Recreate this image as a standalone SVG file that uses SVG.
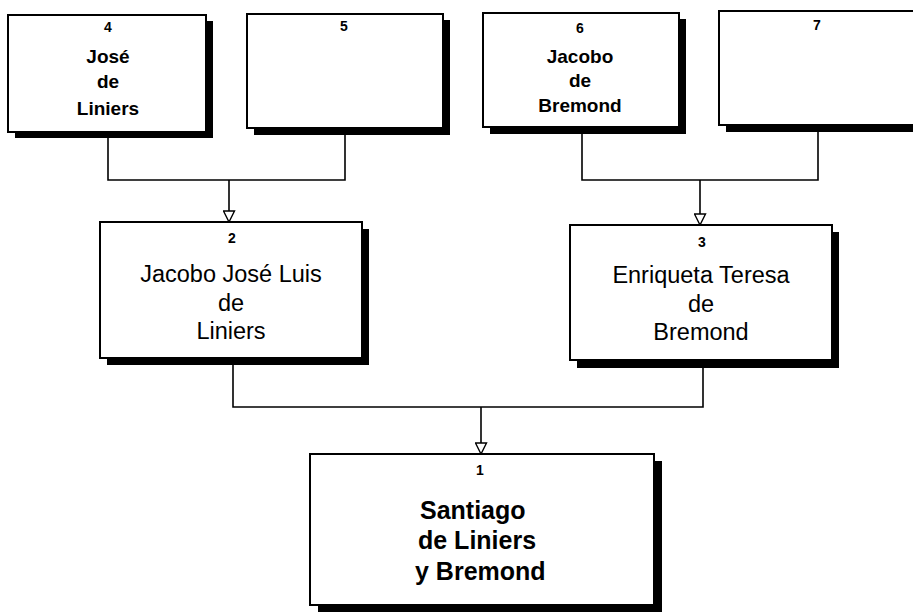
<svg xmlns="http://www.w3.org/2000/svg" width="913" height="612" viewBox="0 0 913 612">
<defs>
<style>
.box{fill:#fff;stroke:#000;stroke-width:2}
.sh{fill:#000}
.num{font-family:"Liberation Sans",Arial,sans-serif;font-weight:bold;font-size:14px;text-anchor:middle;fill:#000}
.top{font-family:"Liberation Sans",Arial,sans-serif;font-weight:bold;font-size:19px;text-anchor:middle;fill:#000}
.mid{font-family:"Liberation Sans",Arial,sans-serif;font-size:23.5px;text-anchor:middle;fill:#000}
.main{font-family:"Liberation Sans",Arial,sans-serif;font-weight:bold;font-size:25px;fill:#000}
.con{fill:none;stroke:#000;stroke-width:1.6}
</style>
<marker id="arr" viewBox="0 0 13 13" refX="12" refY="6.5" markerWidth="13" markerHeight="13" markerUnits="userSpaceOnUse" orient="auto">
<path d="M1,1 L12,6.5 L1,12 Z" fill="#fff" stroke="#000" stroke-width="1.4"/>
</marker>
</defs>
<rect width="913" height="612" fill="#fff"/>
<g id="connectors">
<path class="con" d="M108,132 V180 H345 V128"/>
<path class="con" d="M229,180 V222" marker-end="url(#arr)"/>
<path class="con" d="M582,127 V180 H818 V125"/>
<path class="con" d="M700,180 V225" marker-end="url(#arr)"/>
<path class="con" d="M233,360 V407 H703 V362"/>
<path class="con" d="M481,407 V454" marker-end="url(#arr)"/>
</g>
<g id="node4">
<rect class="sh" x="15" y="21" width="198" height="117"/>
<rect class="box" x="8" y="15" width="198" height="117"/>
<text class="num" x="108" y="32">4</text>
<text class="top" x="108" y="63">José</text>
<text class="top" x="108" y="88">de</text>
<text class="top" x="108" y="115">Liniers</text>
</g>
<g id="node5">
<rect class="sh" x="254" y="20" width="196" height="115"/>
<rect class="box" x="247" y="14" width="196" height="114"/>
<text class="num" x="344" y="31">5</text>
</g>
<g id="node6">
<rect class="sh" x="490" y="19" width="196" height="115"/>
<rect class="box" x="483" y="13" width="196" height="114"/>
<text class="num" x="580" y="33">6</text>
<text class="top" x="580" y="63">Jacobo</text>
<text class="top" x="580" y="87">de</text>
<text class="top" x="580" y="112">Bremond</text>
</g>
<g id="node7">
<rect class="sh" x="726" y="17" width="196" height="115"/>
<rect class="box" x="719" y="11" width="196" height="114"/>
<text class="num" x="817" y="30">7</text>
</g>
<g id="node2">
<rect class="sh" x="107" y="229" width="262" height="136"/>
<rect class="box" x="100" y="222" width="262" height="136"/>
<text class="num" x="232" y="243">2</text>
<text class="mid" x="231" y="282">Jacobo José Luis</text>
<text class="mid" x="231" y="311">de</text>
<text class="mid" x="231" y="339">Liniers</text>
</g>
<g id="node3">
<rect class="sh" x="577" y="232" width="262" height="136"/>
<rect class="box" x="570" y="225" width="262" height="135"/>
<text class="num" x="702" y="247">3</text>
<text class="mid" x="701" y="283">Enriqueta Teresa</text>
<text class="mid" x="701" y="312">de</text>
<text class="mid" x="701" y="340">Bremond</text>
</g>
<g id="node1">
<rect class="sh" x="318" y="461" width="344" height="151"/>
<rect class="box" x="310" y="454" width="344" height="151"/>
<text class="num" x="480" y="475">1</text>
<text class="main" x="420" y="519">Santiago</text>
<text class="main" x="418" y="549">de Liniers</text>
<text class="main" x="415" y="580">y Bremond</text>
</g>
</svg>
